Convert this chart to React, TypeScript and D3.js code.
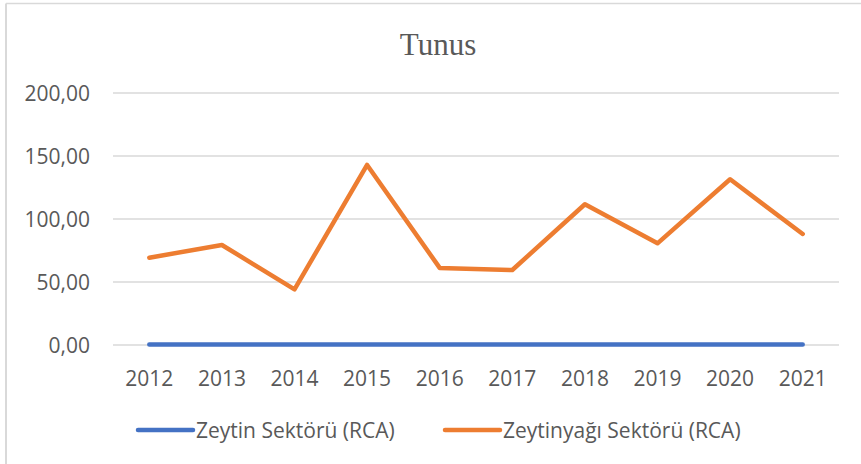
import React from "react";
import { scaleLinear, scaleBand, line } from "d3";

const width = 861;
const height = 464;

const margin = { top: 93, right: 22, bottom: 119, left: 113 };
const innerWidth = width - margin.left - margin.right;
const innerHeight = height - margin.top - margin.bottom;

// data
const years = ["2012", "2013", "2014", "2015", "2016", "2017", "2018", "2019", "2020", "2021"];
const zeytin = [0.45, 0.41, 0.4, 0.43, 0.39, 0.42, 0.44, 0.37, 0.36, 0.38];
const zeytinyagi = [69.3, 79.4, 44.2, 142.9, 61.2, 59.5, 111.7, 80.7, 131.5, 88.1];
const yTicks = [0, 50, 100, 150, 200];
const seriesNames = ["Zeytin Sektörü (RCA)", "Zeytinyağı Sektörü (RCA)"];
const seriesColors = ["#4472C4", "#ED7D31"];

const axisFont = "'Open Sans', 'Noto Sans', sans-serif";
const axisSize = 21;
const textColor = "#595959";

const fmt = (v: number) => v.toFixed(2).replace(".", ",");

export default function App() {
  const xScale = scaleBand<string>().domain(years).range([0, innerWidth]);
  const yScale = scaleLinear().domain([0, 200]).range([innerHeight, 0]);

  const xPos = (i: number) => (xScale(years[i]) as number) + xScale.bandwidth() / 2;
  const lineGen = line<number>()
    .x((_, i) => xPos(i))
    .y((d) => yScale(d));

  const series = [zeytin, zeytinyagi];

  // legend layout
  const legendY = 430;
  const legendItems = [
    { x: 138, name: seriesNames[0], color: seriesColors[0] },
    { x: 445, name: seriesNames[1], color: seriesColors[1] },
  ];

  return (
    <svg
      width={width}
      height={height}
      style={{ position: "absolute", left: 0, top: 0, background: "#fff" }}
    >
      {/* outer frame */}
      <line x1={6} y1={3.5} x2={width} y2={3.5} stroke="#d9d9d9" strokeWidth={1.5} />
      <line x1={6} y1={3.5} x2={6} y2={height} stroke="#d9d9d9" strokeWidth={2} />

      {/* title */}
      <text
        x={438}
        y={55}
        textAnchor="middle"
        fill={textColor}
        style={{ fontFamily: "'Liberation Serif', 'Times New Roman', serif", fontSize: 31 }}
      >
        Tunus
      </text>

      <g transform={`translate(${margin.left}, ${margin.top})`}>
        {/* y gridlines + labels */}
        {yTicks.map((t) => (
          <g key={t} transform={`translate(0, ${yScale(t)})`}>
            <line x2={innerWidth} stroke="#d9d9d9" strokeWidth={1.5} />
            <text
              x={-23}
              dy="0.36em"
              textAnchor="end"
              fill={textColor}
              style={{ fontFamily: axisFont, fontSize: axisSize }}
            >
              {fmt(t)}
            </text>
          </g>
        ))}

        {/* x labels */}
        {years.map((y, i) => (
          <text
            key={y}
            x={xPos(i)}
            y={innerHeight + 41}
            textAnchor="middle"
            fill={textColor}
            style={{ fontFamily: axisFont, fontSize: axisSize }}
          >
            {y}
          </text>
        ))}

        {/* lines */}
        {series.map((s, k) => (
          <path
            key={k}
            d={lineGen(s) || ""}
            fill="none"
            stroke={seriesColors[k]}
            strokeWidth={4.5}
            strokeLinecap="round"
            strokeLinejoin="round"
          />
        ))}
      </g>

      {/* legend */}
      {legendItems.map((it) => (
        <g key={it.name}>
          <line
            x1={it.x}
            x2={it.x + 55}
            y1={legendY}
            y2={legendY}
            stroke={it.color}
            strokeWidth={4.5}
            strokeLinecap="round"
          />
          <text
            x={it.x + 58}
            y={legendY + 8}
            fill={textColor}
            style={{ fontFamily: axisFont, fontSize: axisSize }}
          >
            {it.name}
          </text>
        </g>
      ))}
    </svg>
  );
}
